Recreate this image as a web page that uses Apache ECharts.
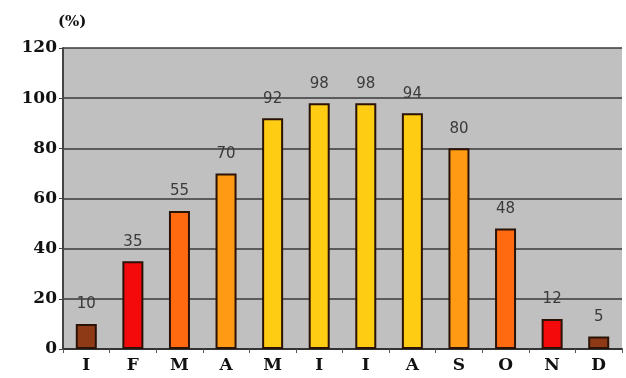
<!DOCTYPE html>
<html>
<head>
<meta charset="utf-8">
<script src="https://cdn.jsdelivr.net/npm/echarts@6/dist/echarts.min.js"></script>
<style>
  html, body { margin: 0; padding: 0; background: #fff; }
  #chart { width: 626px; height: 378px; }
</style>
</head>
<body>
<div id="chart"></div>
<script>
  var months = ['I', 'F', 'M', 'A', 'M', 'I', 'I', 'A', 'S', 'O', 'N', 'D'];
  var values = [10, 35, 55, 70, 92, 98, 98, 94, 80, 48, 12, 5];
  var barColors = ['#8e3a16', '#f40a0a', '#ff6a10', '#ff9a14', '#ffcc14', '#ffcc14',
                   '#ffcc14', '#ffcc14', '#ff9a14', '#ff6a10', '#f40a0a', '#8e3a16'];
  var yTicks = [0, 20, 40, 60, 80, 100, 120];

  var myChart = echarts.init(document.getElementById('chart'));
  var serif = '"DejaVu Serif", "Liberation Serif", serif';
  var option = {
    animation: false,
    graphic: [{
      type: 'text', left: 58, top: 15,
      style: { text: '(%)', font: 'bold 15px ' + serif, fill: '#111' }
    }],
    grid: { left: 63, right: 4, top: 48, bottom: 29, show: true,
            backgroundColor: '#c0c0c0', borderWidth: 0 },
    xAxis: {
      type: 'category',
      data: months,
      axisLine: { lineStyle: { color: '#333', width: 2 } },
      axisTick: { show: true, length: 4, lineStyle: { color: '#555' } },
      axisLabel: { color: '#111', fontFamily: serif, fontWeight: 'bold', fontSize: 17, margin: 8 }
    },
    yAxis: {
      type: 'value',
      min: 0, max: 120, interval: 20,
      axisLine: { show: true, lineStyle: { color: '#444', width: 2 } },
      axisTick: { show: true, length: 4, lineStyle: { color: '#444' } },
      axisLabel: { color: '#111', fontFamily: serif, fontWeight: 'bold', fontSize: 17, margin: 6,
                   formatter: function (v) { return yTicks.indexOf(v) >= 0 ? v : ''; } },
      splitLine: { lineStyle: { color: '#3a3a3a', width: 1.5 } }
    },
    series: [{
      type: 'bar',
      barWidth: 21,
      data: values.map(function (v, i) {
        return { value: v, itemStyle: { color: barColors[i] } };
      }),
      itemStyle: { borderColor: '#2a1206', borderWidth: 2 },
      label: {
        show: true, position: 'top', distance: 12,
        color: '#3a3a3a', fontFamily: '"DejaVu Sans", Arial, sans-serif', fontSize: 15
      }
    }]
  };
  myChart.setOption(option);
</script>
</body>
</html>
